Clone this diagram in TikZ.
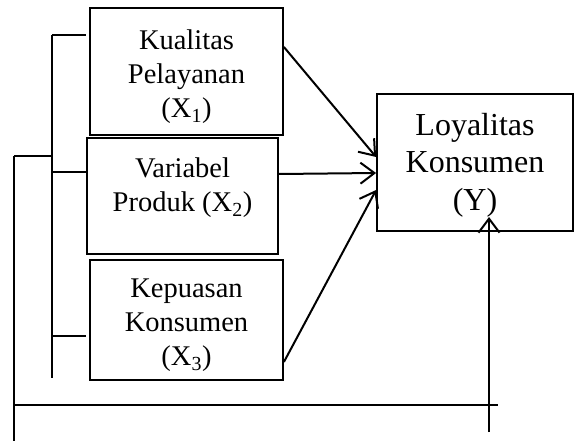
\documentclass[tikz,border=0pt]{standalone}
\usepackage{fontspec}
\setmainfont{Liberation Serif}
\usetikzlibrary{arrows.meta}
\begin{document}
\begin{tikzpicture}[x=1pt,y=-1pt,
  box/.style={draw, line width=1.8pt, inner sep=0pt},
  lbl/.style={align=center, inner sep=0pt, anchor=north, font=\fontsize{28.5}{34}\selectfont},
  ylbl/.style={align=center, inner sep=0pt, anchor=north, font=\fontsize{32}{37.5}\selectfont},
  link/.style={line width=2pt, -{Straight Barb[length=14pt,width=21pt,line width=2pt]}},
  rail/.style={line width=2pt}]
\useasboundingbox (0,0) rectangle (575,441);

% independent variables
\node[box, minimum width=193pt, minimum height=127pt] (x1) at (186.5,71.5) {};
\node[box, minimum width=191pt, minimum height=116pt] (x2) at (182.5,196) {};
\node[box, minimum width=193pt, minimum height=120pt] (x3) at (186.5,320) {};
\node[lbl] (t1) at (186.5,30) {Kualitas\\Pelayanan\\(X\textsubscript{1})};
\node[lbl] (t2) at (182.5,158) {Variabel\\Produk (X\textsubscript{2})};
\node[lbl] (t3) at (186.5,279) {Kepuasan\\Konsumen\\(X\textsubscript{3})};

% dependent variable
\node[box, minimum width=196pt, minimum height=137pt] (y) at (475,162.5) {};
\node[ylbl] (ty) at (475,113) {Loyalitas\\Konsumen\\(Y)};

% arrow end points on the box edges
\coordinate (s1) at (x1.north east |- 0,47);
\coordinate (s2) at (x2.north east |- 0,174);
\coordinate (s3) at (x3.north east |- 0,362);
\coordinate (e1) at (y.north west |- 0,157);
\coordinate (e2) at (y.north west |- 0,173);
\coordinate (e3) at (y.north west |- 0,190);

\draw[link] (s1) -- (e1);
\draw[link] (s2) -- (e2);
\draw[link] (s3) -- (e3);

% inner bracket joining the three variables
\coordinate (bt) at (52,35);
\coordinate (bb) at (52,378);
\coordinate (k1) at (86,35);
\coordinate (k2) at (x2.west |- 0,172);
\coordinate (k3) at (86,336);
\draw[rail] (bt) -- (bb);
\draw[rail] (bt) -- (k1);
\draw[rail] (52,172) -- (k2);
\draw[rail] (52,336) -- (k3);

% outer bracket with the simultaneous path
\coordinate (o1) at (14,156);
\coordinate (o2) at (14,441);
\coordinate (h1) at (14,405);
\coordinate (h2) at (498,405);
\coordinate (v0) at (489,432);
\coordinate (v1) at (489,217);
\draw[rail] (o1) -- (52,156);
\draw[rail] (o1) -- (o2);
\draw[line width=1.4pt] (h1) -- (h2);
\draw[link] (v0) -- (v1);
\end{tikzpicture}
\end{document}
